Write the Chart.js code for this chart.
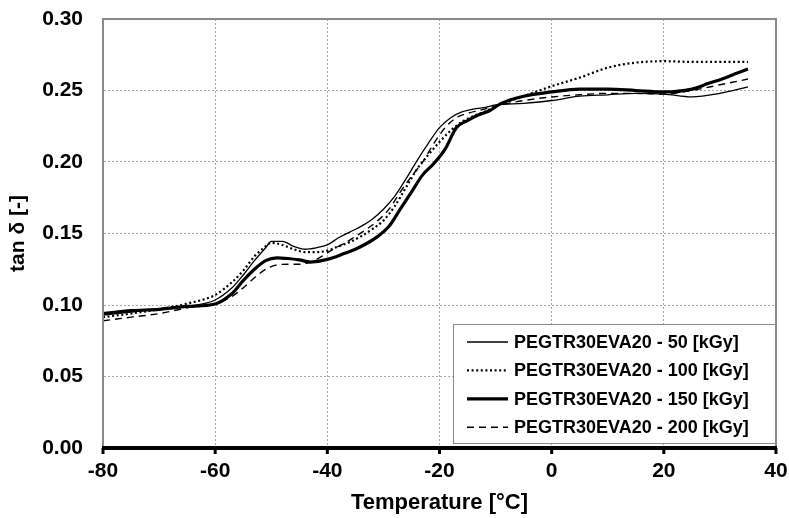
<!DOCTYPE html>
<html>
<head>
<meta charset="utf-8">
<script src="https://cdn.jsdelivr.net/npm/chart.js@4.4.0/dist/chart.umd.min.js"></script>
<style>
  body { margin: 0; background: #fff; }
  #wrap { width: 789px; height: 518px; }
</style>
</head>
<body>
<div id="wrap"><canvas id="tanChart"></canvas></div>
<script>
// temperatures [°C] and tan delta readings, one pair of arrays per dose
const temp50 = [-80, -75, -70, -65, -60, -57, -55, -53, -51, -50, -48, -46, -44, -42, -40, -38, -36, -34, -32, -30, -28, -26, -24, -22, -20, -18, -16, -14, -12, -10, -5, 0, 5, 10, 15, 20, 25, 30, 35];
const tan50 = [0.093, 0.095, 0.097, 0.099, 0.1035, 0.112, 0.121, 0.131, 0.140, 0.1445, 0.1445, 0.141, 0.139, 0.140, 0.142, 0.147, 0.151, 0.155, 0.160, 0.167, 0.176, 0.188, 0.201, 0.213, 0.224, 0.231, 0.235, 0.237, 0.238, 0.240, 0.241, 0.243, 0.246, 0.247, 0.248, 0.2475, 0.2455, 0.248, 0.2525];

const temp100 = [-80, -75, -70, -65, -60, -57, -55, -53, -51, -50, -48, -46, -44, -42, -40, -38, -36, -34, -32, -30, -28, -26, -24, -22, -20, -18, -16, -14, -12, -10, -5, 0, 5, 10, 15, 20, 25, 30, 35];
const tan100 = [0.0915, 0.094, 0.097, 0.101, 0.107, 0.116, 0.124, 0.134, 0.141, 0.1435, 0.142, 0.139, 0.137, 0.137, 0.138, 0.141, 0.144, 0.148, 0.153, 0.159, 0.169, 0.182, 0.195, 0.205, 0.214, 0.222, 0.228, 0.232, 0.235, 0.239, 0.246, 0.253, 0.259, 0.266, 0.2695, 0.2705, 0.270, 0.270, 0.270];

const temp150 = [-80, -75, -70, -65, -60, -57, -55, -53, -51, -49, -47, -45, -43, -41, -39, -37, -35, -33, -31, -29, -27, -25, -23, -21, -19, -17, -15, -13, -11, -9, -5, 0, 5, 10, 15, 20, 25, 28, 31, 33, 35];
const tan150 = [0.094, 0.096, 0.097, 0.099, 0.1007, 0.108, 0.117, 0.125, 0.131, 0.133, 0.1325, 0.1315, 0.130, 0.131, 0.133, 0.136, 0.139, 0.143, 0.148, 0.155, 0.167, 0.179, 0.191, 0.199, 0.209, 0.224, 0.229, 0.233, 0.236, 0.241, 0.246, 0.249, 0.251, 0.251, 0.250, 0.249, 0.251, 0.255, 0.259, 0.262, 0.265];

const temp200 = [-80, -75, -70, -65, -60, -57, -55, -53, -51, -49, -47, -45, -43, -41, -39, -37, -35, -33, -31, -29, -27, -25, -23, -21, -19, -17, -15, -13, -11, -9, -5, 0, 5, 10, 15, 20, 25, 30, 35];
const tan200 = [0.089, 0.0915, 0.094, 0.098, 0.1007, 0.106, 0.112, 0.119, 0.125, 0.128, 0.1285, 0.1285, 0.130, 0.134, 0.139, 0.143, 0.148, 0.153, 0.159, 0.167, 0.179, 0.190, 0.200, 0.213, 0.224, 0.231, 0.234, 0.236, 0.238, 0.240, 0.243, 0.2455, 0.247, 0.248, 0.248, 0.2475, 0.250, 0.254, 0.258];

const seriesLabels = ['PEGTR30EVA20 - 50 [kGy]', 'PEGTR30EVA20 - 100 [kGy]', 'PEGTR30EVA20 - 150 [kGy]', 'PEGTR30EVA20 - 200 [kGy]'];
const xTicks = [-80, -60, -40, -20, 0, 20, 40];
const yTicks = [0, 0.05, 0.10, 0.15, 0.20, 0.25, 0.30];

const FONT = '"Liberation Sans", Arial, sans-serif';

function pairs(xs, ys) {
    return xs.map((x, i) => ({ x: x, y: ys[i] }));
}

// border of the plot area + thick x axis line with tick marks
const frame = {
    id: 'frame',
    afterDatasetsDraw(chart) {
        const { ctx, chartArea: a } = chart;
        const xs = chart.scales.x;
        ctx.save();
        ctx.strokeStyle = '#8a8a8a';
        ctx.lineWidth = 2;
        ctx.beginPath();
        ctx.moveTo(a.left, a.bottom);
        ctx.lineTo(a.left, a.top);
        ctx.lineTo(a.right, a.top);
        ctx.lineTo(a.right, a.bottom);
        ctx.stroke();
        ctx.strokeStyle = '#000';
        ctx.lineWidth = 4;
        ctx.beginPath();
        ctx.moveTo(a.left - 1, a.bottom);
        ctx.lineTo(a.right + 1, a.bottom);
        ctx.stroke();
        ctx.lineWidth = 3;
        xTicks.forEach(v => {
            const px = xs.getPixelForValue(v);
            ctx.beginPath();
            ctx.moveTo(px, a.bottom);
            ctx.lineTo(px, a.bottom + 6);
            ctx.stroke();
        });
        ctx.restore();
    }
};

// legend box inside the plot, bottom right
const boxLegend = {
    id: 'boxLegend',
    afterDraw(chart) {
        const { ctx, chartArea: a } = chart;
        const w = 322, h = 119;
        const x0 = a.right - 1 - w, y0 = a.bottom - 5 - h;
        ctx.save();
        ctx.fillStyle = '#fff';
        ctx.fillRect(x0, y0, w, h);
        ctx.strokeStyle = '#8a8a8a';
        ctx.lineWidth = 1;
        ctx.strokeRect(x0 + 0.5, y0 + 0.5, w, h);
        ctx.font = 'bold 18px ' + FONT;
        ctx.textBaseline = 'middle';
        ctx.fillStyle = '#000';
        chart.data.datasets.forEach((ds, i) => {
            const y = y0 + 18 + i * 28.4;
            ctx.strokeStyle = ds.borderColor;
            ctx.lineWidth = ds.borderWidth;
            ctx.setLineDash(ds.borderDash || []);
            ctx.beginPath();
            ctx.moveTo(x0 + 14, y);
            ctx.lineTo(x0 + 55, y);
            ctx.stroke();
            ctx.setLineDash([]);
            ctx.fillText(ds.label, x0 + 61, y + 1);
        });
        ctx.restore();
    }
};

const ctx = document.getElementById('tanChart').getContext('2d');
new Chart(ctx, {
    type: 'line',
    data: {
        datasets: [
            { label: seriesLabels[0], data: pairs(temp50, tan50), borderColor: '#000', borderWidth: 1.3, borderDash: [] },
            { label: seriesLabels[1], data: pairs(temp100, tan100), borderColor: '#000', borderWidth: 2.2, borderDash: [2, 2.6] },
            { label: seriesLabels[2], data: pairs(temp150, tan150), borderColor: '#000', borderWidth: 3.2, borderDash: [] },
            { label: seriesLabels[3], data: pairs(temp200, tan200), borderColor: '#000', borderWidth: 1.4, borderDash: [7, 5] }
        ]
    },
    options: {
        responsive: true,
        maintainAspectRatio: false,
        animation: false,
        elements: {
            point: { radius: 0 },
            line: { tension: 0.35, cubicInterpolationMode: 'monotone', fill: false }
        },
        layout: { padding: { top: 19, right: 13, left: 0, bottom: 0 } },
        plugins: {
            legend: { display: false },
            tooltip: { enabled: false }
        },
        scales: {
            x: {
                type: 'linear',
                min: -80,
                max: 40,
                afterBuildTicks: (s) => { s.ticks = xTicks.map(v => ({ value: v })); },
                afterFit: (s) => { s.height = 70; s.paddingLeft = 0; s.paddingRight = 0; },
                ticks: {
                    color: '#000',
                    font: { family: FONT, size: 21, weight: 'bold' },
                    padding: 11,
                    maxRotation: 0
                },
                grid: {
                    color: '#a8a8a8',
                    tickLength: 6,
                    drawTicks: false
                },
                border: { display: true, color: 'rgba(0,0,0,0)', dash: [2, 2] },
                title: {
                    display: true,
                    text: 'Temperature [°C]',
                    color: '#000',
                    font: { family: FONT, size: 22, weight: 'bold' },
                    padding: { top: 0, bottom: 2 }
                }
            },
            y: {
                min: 0,
                max: 0.30,
                afterBuildTicks: (s) => { s.ticks = yTicks.map(v => ({ value: v })); },
                afterFit: (s) => { s.width = 103; s.paddingTop = 0; s.paddingBottom = 0; },
                ticks: {
                    color: '#000',
                    font: { family: FONT, size: 21, weight: 'bold' },
                    padding: 20,
                    callback: (v) => v.toFixed(2)
                },
                grid: {
                    color: '#a8a8a8',
                    tickLength: 0,
                    drawTicks: false
                },
                border: { display: true, color: 'rgba(0,0,0,0)', dash: [2, 2] },
                title: {
                    display: true,
                    text: 'tan δ [-]',
                    color: '#000',
                    font: { family: FONT, size: 21, weight: 'bold' },
                    padding: { top: 6, bottom: 0 }
                }
            }
        }
    },
    plugins: [frame, boxLegend]
});
</script>
</body>
</html>
